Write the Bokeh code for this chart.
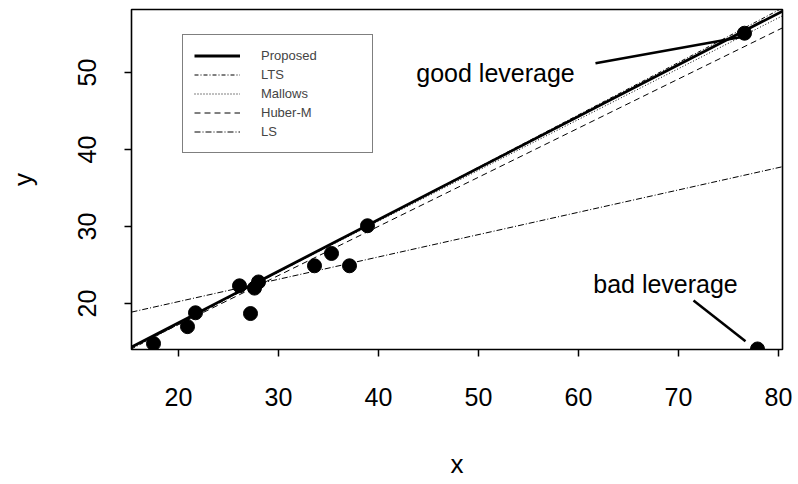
from bokeh.plotting import figure
from bokeh.models import Legend, LegendItem, FixedTicker, Range1d
from bokeh.embed import file_html
from bokeh.resources import INLINE
from bokeh.core.properties import value

# observations
x_obs = [17.5, 20.9, 21.7, 26.1, 27.2, 27.6, 28.0, 33.6, 35.3, 37.1, 38.9, 76.6, 77.9]
y_obs = [14.8, 17.0, 18.8, 22.3, 18.7, 22.0, 22.8, 24.9, 26.5, 24.9, 30.1, 55.1, 14.1]

# fitted lines (intercept, slope)
methods = ["Proposed", "LTS", "Mallows", "Huber-M", "LS"]
intercepts = [4.1, 3.7, 4.3, 4.5, 14.45]
slopes = [0.67, 0.68, 0.66, 0.638, 0.29]

x_ticks = [20, 30, 40, 50, 60, 70, 80]
y_ticks = [20, 30, 40, 50]
x_lim = [15.3, 80.4]
y_lim = [14.03, 58.18]

# annotations
ann_text = ["good leverage", "bad leverage"]
ann_x = [51.7, 68.7]
ann_y = [49.9, 22.5]
ptr_x0 = [61.7, 71.5]
ptr_y0 = [51.2, 20.4]
ptr_x1 = [76.3, 76.7]
ptr_y1 = [54.6, 15.1]

FONT = "Liberation Sans"
widths = [2.8, 1, 1, 1, 1]
dashes = ["solid", "4 2 1 2", "1 2", "6 4", "6 2 1 2"]

p = figure(width=798, height=484, x_range=Range1d(*x_lim), y_range=Range1d(*y_lim),
           output_backend="svg", toolbar_location=None,
           min_border_left=131, min_border_right=16, min_border_top=9, min_border_bottom=135,
           x_axis_label="x", y_axis_label="y")
p.background_fill_color = "white"
p.border_fill_color = "white"
p.outline_line_color = "black"
p.outline_line_width = 1.6
p.xgrid.visible = False
p.ygrid.visible = False

p.xaxis.ticker = FixedTicker(ticks=x_ticks)
p.yaxis.ticker = FixedTicker(ticks=y_ticks)
for ax in (p.xaxis[0], p.yaxis[0]):
    ax.axis_line_color = None
    ax.major_tick_out = 7
    ax.major_tick_in = 0
    ax.major_tick_line_width = 1.5
    ax.major_tick_line_color = "black"
    ax.minor_tick_line_color = None
    ax.major_label_text_font = FONT
    ax.major_label_text_font_size = "25px"
    ax.major_label_text_color = "black"
    ax.axis_label_text_font = FONT
    ax.axis_label_text_font_size = "26px"
    ax.axis_label_text_font_style = "normal"
    ax.axis_label_text_color = "black"
p.xaxis.major_label_standoff = 31
p.xaxis.axis_label_standoff = 40
p.yaxis.major_label_orientation = "vertical"
p.yaxis.major_label_standoff = 28
p.yaxis.axis_label_standoff = 38

items = []
for m, a, b, w, d in zip(methods, intercepts, slopes, widths, dashes):
    ys = [a + b * x for x in x_lim]
    r = p.line(x_lim, ys, line_color="black", line_width=w, line_dash=d)
    items.append(LegendItem(label=m, renderers=[r]))

p.scatter(x_obs, y_obs, size=14, color="black")

p.segment(ptr_x0, ptr_y0, ptr_x1, ptr_y1, line_color="black", line_width=2.5)
p.text(ann_x, ann_y, text=ann_text, text_font=value(FONT), text_font_size="25px",
       text_align="center", text_baseline="alphabetic", text_color="black")

legend = Legend(items=items, location=(51, 196), margin=0, padding=11, spacing=0,
                glyph_width=46, glyph_height=19, label_height=19, label_width=100,
                label_standoff=21, label_text_font=FONT, label_text_font_size="13px",
                border_line_color="black", border_line_width=1.5,
                background_fill_color="white", background_fill_alpha=1)
p.add_layout(legend)

open("out.html", "w").write(file_html(p, INLINE))
